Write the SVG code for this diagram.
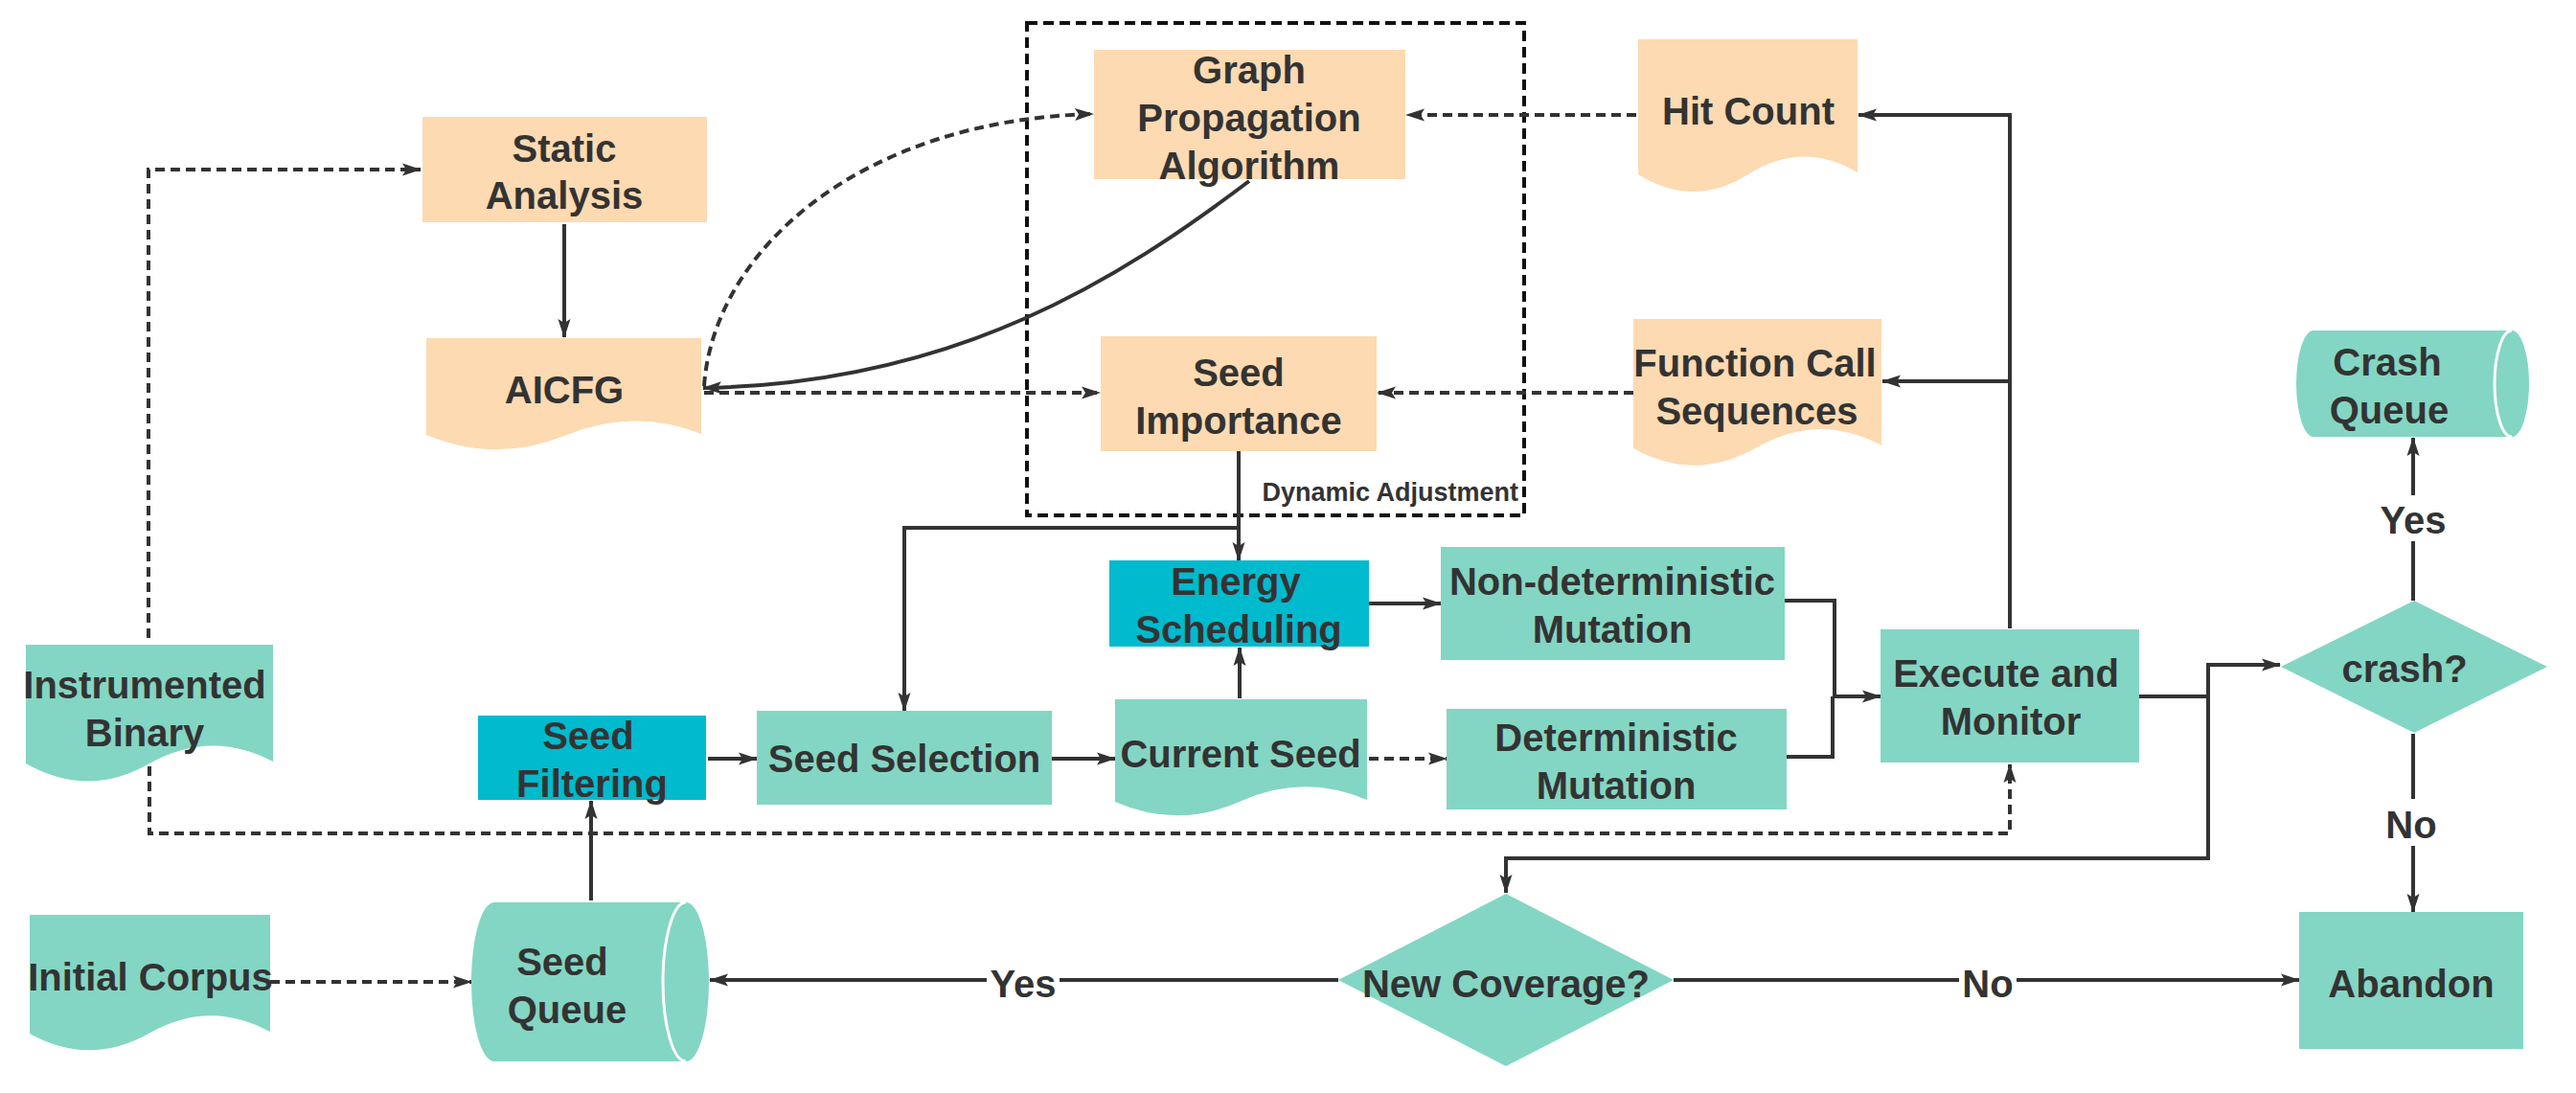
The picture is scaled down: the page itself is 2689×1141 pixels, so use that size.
<svg xmlns="http://www.w3.org/2000/svg" width="2689" height="1141" viewBox="0 0 2689 1141">
<defs>
<style>
.t{font-family:"Liberation Sans",Arial,sans-serif;font-weight:bold;font-size:40px;fill:#333333;text-anchor:middle}
.sm{font-size:27px;text-anchor:end}
.teal{fill:#83D6C3}
.peach{fill:#FDDAB1}
.cyan{fill:#00BACE}
.ln{fill:none;stroke:#333333;stroke-width:4}
.dl{fill:none;stroke:#333333;stroke-width:4;stroke-dasharray:10 6}
.arr{marker-end:url(#ah)}
</style>
<marker id="ah" markerUnits="userSpaceOnUse" markerWidth="22" markerHeight="14" refX="19" refY="7" orient="auto">
<path d="M0,0.5 L20,7 L0,13.5 L4,7 Z" fill="#333333"/>
</marker>
</defs>
<rect width="2689" height="1141" fill="#ffffff"/>

<g id="dynamic-adjustment">
<rect x="1072" y="24" width="519" height="514" fill="none" stroke="#111111" stroke-width="4" stroke-dasharray="11 6"/>
<text class="t sm" x="1585" y="523">Dynamic Adjustment</text>
</g>

<g id="connectors">
<path class="dl arr" d="M155,666 V177 H439"/>
<path class="dl arr" d="M156,800 V870 H2098 V798"/>
<path class="ln arr" d="M589,234 V352"/>
<path class="dl arr" d="M735,403 C745,260 900,125 1141,119"/>
<path class="ln arr" d="M1304,189 C1170,290 1000,400 734,405"/>
<path class="dl arr" d="M735,410 H1148"/>
<path class="dl arr" d="M1708,120 H1468"/>
<path class="dl arr" d="M1705,410 H1438"/>
<path class="ln arr" d="M1293,471 V585"/>
<path class="ln arr" d="M1293,551 H944 V742"/>
<path class="ln arr" d="M617,940 V836"/>
<path class="ln arr" d="M739,792 H790"/>
<path class="dl arr" d="M282,1025 H492"/>
<path class="ln arr" d="M1098,792 H1164"/>
<path class="ln arr" d="M1294,729 V676"/>
<path class="dl arr" d="M1429,792 H1510"/>
<path class="ln arr" d="M1429,630 H1504"/>
<path class="ln arr" d="M1863,627 H1915 V727 H1963"/>
<path class="ln" d="M1865,790 H1913 V727"/>
<path class="ln arr" d="M2098,656 V120 H1940"/>
<path class="ln arr" d="M2098,398 H1965"/>
<path class="ln arr" d="M2233,727 H2305 V694 H2380"/>
<path class="ln arr" d="M2305,727 V896 H1572 V932"/>
<path class="ln arr" d="M2519,627 V457"/>
<path class="ln arr" d="M2519,766 V952"/>
<path class="ln arr" d="M1397,1023 H741"/>
<path class="ln arr" d="M1747,1023 H2400"/>
<rect x="1030" y="1000" width="76" height="50" fill="#ffffff"/>
<text class="t" x="1068" y="1041">Yes</text>
<rect x="2045" y="1000" width="60" height="50" fill="#ffffff"/>
<text class="t" x="2075" y="1041">No</text>
<rect x="2480" y="517" width="78" height="48" fill="#ffffff"/>
<text class="t" x="2519" y="557">Yes</text>
<rect x="2489" y="834" width="60" height="49" fill="#ffffff"/>
<text class="t" x="2517" y="875">No</text>
</g>

<g id="static-analysis">
<rect class="peach" x="441" y="122" width="297" height="110"/>
<text class="t" x="589" y="169">Static</text>
<text class="t" x="589" y="218">Analysis</text>
</g>

<g id="aicfg">
<path class="peach" d="M445,353 H732 V453 Q661,425 589,455 Q517,484 445,454 Z"/>
<text class="t" x="589" y="421">AICFG</text>
</g>

<g id="graph-propagation">
<rect class="peach" x="1142" y="52" width="325" height="135"/>
<text class="t" x="1304" y="87">Graph</text>
<text class="t" x="1304" y="137">Propagation</text>
<text class="t" x="1304" y="187">Algorithm</text>
</g>

<g id="seed-importance">
<rect class="peach" x="1149" y="351" width="288" height="120"/>
<text class="t" x="1293" y="403">Seed</text>
<text class="t" x="1293" y="453">Importance</text>
</g>

<g id="hit-count">
<path class="peach" d="M1710,41 H1939 V180 Q1882,146 1825,182 Q1768,218 1710,182 Z"/>
<text class="t" x="1825" y="130">Hit Count</text>
</g>

<g id="function-call-sequences">
<path class="peach" d="M1705,333 H1964 V465 Q1899,430 1834,467 Q1770,504 1705,468 Z"/>
<text class="t" x="1832" y="393">Function Call</text>
<text class="t" x="1834" y="443">Sequences</text>
</g>

<g id="crash-queue">
<path class="teal" d="M2415,345 H2622 A18,55.5 0 0 1 2622,456 H2415 A18,55.5 0 0 1 2415,345 Z"/>
<path d="M2622,345 A18,55.5 0 0 0 2622,456" fill="none" stroke="#ffffff" stroke-width="3"/>
<text class="t" x="2492" y="392">Crash</text>
<text class="t" x="2494" y="442">Queue</text>
</g>

<g id="instrumented-binary">
<path class="teal" d="M27,673 H285 V795 Q221,761 156,797 Q92,834 27,797 Z"/>
<text class="t" x="151" y="729">Instrumented</text>
<text class="t" x="151" y="779">Binary</text>
</g>

<g id="initial-corpus">
<path class="teal" d="M31,955 H282 V1077 Q219,1043 157,1078 Q94,1114 31,1079 Z"/>
<text class="t" x="157" y="1034">Initial Corpus</text>
</g>

<g id="seed-filtering">
<rect class="cyan" x="499" y="747" width="238" height="88"/>
<text class="t" x="614" y="782">Seed</text>
<text class="t" x="618" y="832">Filtering</text>
</g>

<g id="seed-selection">
<rect class="teal" x="790" y="742" width="308" height="98"/>
<text class="t" x="944" y="806">Seed Selection</text>
</g>

<g id="seed-queue">
<path class="teal" d="M516,942 H716 A24,83 0 0 1 716,1108 H516 A24,83 0 0 1 516,942 Z"/>
<path d="M716,942 A24,83 0 0 0 716,1108" fill="none" stroke="#ffffff" stroke-width="3"/>
<text class="t" x="587" y="1018">Seed</text>
<text class="t" x="592" y="1068">Queue</text>
</g>

<g id="energy-scheduling">
<rect class="cyan" x="1158" y="585" width="271" height="90"/>
<text class="t" x="1290" y="621">Energy</text>
<text class="t" x="1293" y="671">Scheduling</text>
</g>

<g id="non-deterministic-mutation">
<rect class="teal" x="1504" y="571" width="359" height="118"/>
<text class="t" x="1683" y="621">Non-deterministic</text>
<text class="t" x="1683" y="671">Mutation</text>
</g>

<g id="current-seed">
<path class="teal" d="M1164,730 H1427 V835 Q1361,807 1296,836 Q1230,866 1164,837 Z"/>
<text class="t" x="1295" y="801">Current Seed</text>
</g>

<g id="deterministic-mutation">
<rect class="teal" x="1510" y="740" width="355" height="105"/>
<text class="t" x="1687" y="784">Deterministic</text>
<text class="t" x="1687" y="834">Mutation</text>
</g>

<g id="execute-and-monitor">
<rect class="teal" x="1963" y="657" width="270" height="139"/>
<text class="t" x="2094" y="717">Execute and</text>
<text class="t" x="2099" y="767">Monitor</text>
</g>

<g id="crash-decision">
<path class="teal" d="M2381,696 L2520,627 L2659,696 L2520,765 Z"/>
<text class="t" x="2510" y="712">crash?</text>
</g>

<g id="new-coverage">
<path class="teal" d="M1397,1023 L1572,933 L1747,1023 L1572,1113 Z"/>
<text class="t" x="1572" y="1041">New Coverage?</text>
</g>

<g id="abandon">
<rect class="teal" x="2400" y="952" width="234" height="143"/>
<text class="t" x="2517" y="1041">Abandon</text>
</g>
</svg>
